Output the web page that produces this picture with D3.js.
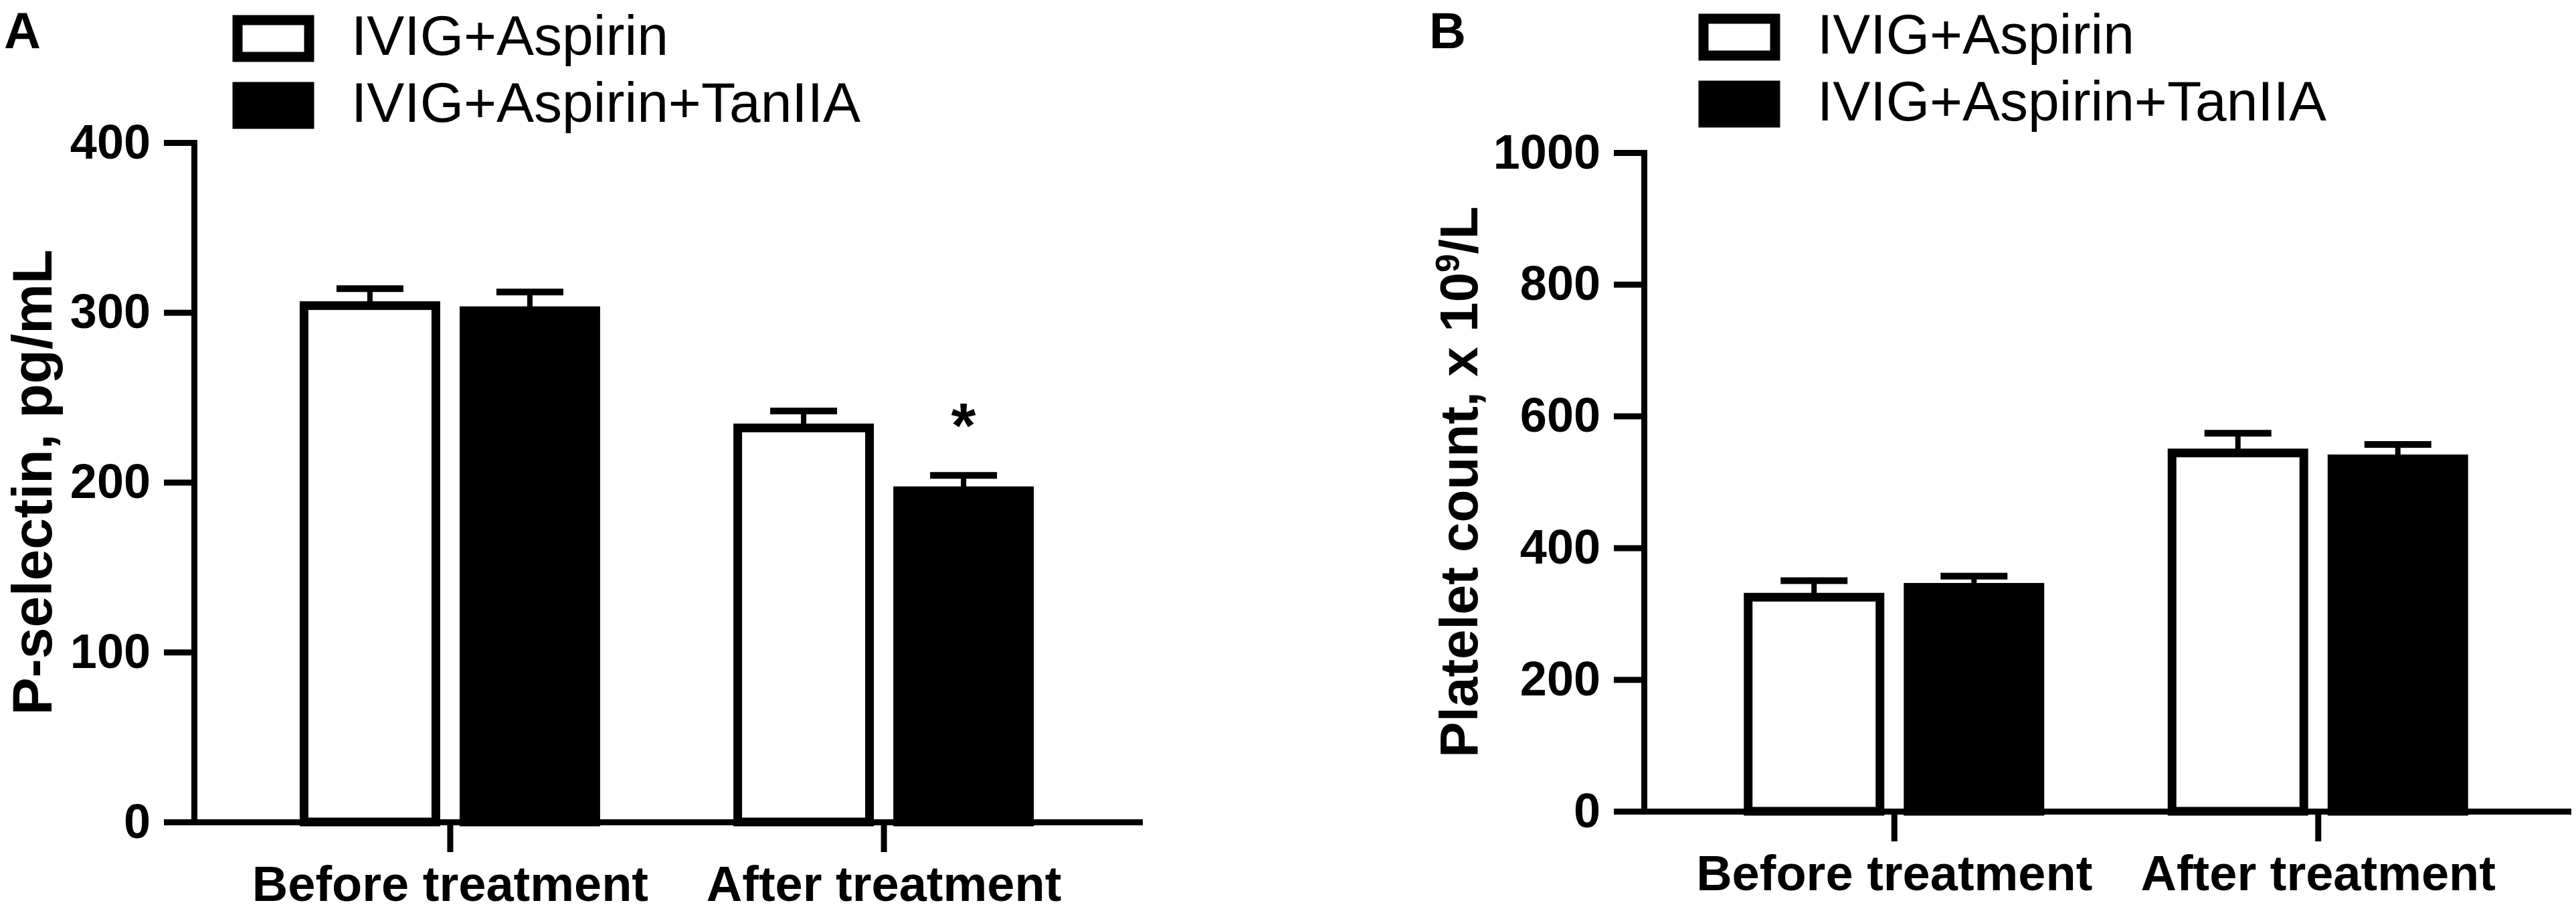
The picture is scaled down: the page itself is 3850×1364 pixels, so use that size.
<!DOCTYPE html>
<html>
<head>
<meta charset="utf-8">
<script src="https://cdn.jsdelivr.net/npm/d3@7"></script>
<style>
  body { margin: 0; background: #fff; }
  svg { display: block; font-family: "Liberation Sans", Arial, sans-serif; }
</style>
</head>
<body>
<svg id="chart" width="3850" height="1364"></svg>
<script>
// data
let groups = ["Before treatment", "After treatment"];
let series = ["IVIG+Aspirin", "IVIG+Aspirin+TanIIA"];
let seriesFill = ["#ffffff", "#000000"];

let pselMean = [[304, 301], [232, 195]];   // [group][series]
let pselErr  = [[10, 11], [10, 9]];
let pselStar = [["", ""], ["", "*"]];
let pselTicks = [0, 100, 200, 300, 400];

let pltMean = [[325, 340], [544, 535]];
let pltErr  = [[25, 17], [30, 22]];
let pltStar = [["", ""], ["", ""]];
let pltTicks = [0, 200, 400, 600, 800, 1000];

let svg = d3.select("#chart");

function drawPanel(p) {
  let g = svg.append("g").attr("class", "panel");

  let y = d3.scaleLinear().domain([0, p.yMax]).range([p.y0, p.yTop]);
  let x = d3.scalePoint().domain(groups).range([p.x0, p.x0 + p.w]).padding(0.59);
  let xs = d3.scaleBand().domain(series).range([-218, 218]).paddingInner(0.176);

  // flatten for the joins
  let rows = [];
  groups.forEach(function(gr, i) {
    series.forEach(function(s, j) {
      rows.push({group: gr, series: s, j: j, mean: p.mean[i][j], err: p.err[i][j], star: p.star[i][j]});
    });
  });

  // bars
  g.selectAll("rect.bar").data(rows).enter().append("rect")
    .attr("class", "bar")
    .attr("x", d => x(d.group) + xs(d.series))
    .attr("y", d => y(d.mean))
    .attr("width", xs.bandwidth())
    .attr("height", d => y(0) - y(d.mean))
    .attr("fill", d => seriesFill[d.j])
    .attr("stroke", "#000")
    .attr("stroke-width", 13);

  // error bars (upper only)
  let eb = g.selectAll("g.err").data(rows).enter().append("g").attr("class", "err");
  eb.append("line")
    .attr("x1", d => x(d.group) + xs(d.series) + xs.bandwidth() / 2)
    .attr("x2", d => x(d.group) + xs(d.series) + xs.bandwidth() / 2)
    .attr("y1", d => y(d.mean))
    .attr("y2", d => y(d.mean + d.err))
    .attr("stroke", "#000").attr("stroke-width", 8);
  eb.append("line")
    .attr("x1", d => x(d.group) + xs(d.series) + xs.bandwidth() / 2 - 50)
    .attr("x2", d => x(d.group) + xs(d.series) + xs.bandwidth() / 2 + 50)
    .attr("y1", d => y(d.mean + d.err))
    .attr("y2", d => y(d.mean + d.err))
    .attr("stroke", "#000").attr("stroke-width", 10);

  // significance marks
  g.selectAll("text.star").data(rows.filter(d => d.star)).enter().append("text")
    .attr("class", "star")
    .attr("x", d => x(d.group) + xs(d.series) + xs.bandwidth() / 2)
    .attr("y", d => y(d.mean + d.err) - 42)
    .attr("text-anchor", "middle")
    .attr("font-size", 95)
    .attr("font-weight", "bold")
    .text(d => d.star);

  // y axis
  let ya = g.append("g")
    .attr("transform", "translate(" + p.x0 + ",0)")
    .call(d3.axisLeft(y).tickValues(p.ticks).tickFormat(d3.format("d"))
      .tickSize(45).tickSizeOuter(0).tickPadding(20));
  // x axis
  let xa = g.append("g")
    .attr("transform", "translate(0," + p.y0 + ")")
    .call(d3.axisBottom(x).tickSize(45).tickSizeOuter(0).tickPadding(20));

  [ya, xa].forEach(function(a) {
    a.select(".domain").attr("stroke", "#000").attr("stroke-width", 9).attr("stroke-linecap", "square");
    a.selectAll(".tick line").attr("stroke", "#000").attr("stroke-width", 9);
    a.selectAll(".tick text").attr("fill", "#000").attr("font-weight", "bold")
      .attr("font-family", "'Liberation Sans', Arial, sans-serif");
  });
  ya.selectAll(".tick text").attr("font-size", 72);
  xa.selectAll(".tick text").attr("font-size", 74);

  // y title
  let yt = g.append("text")
    .attr("transform", "translate(" + p.titleX + "," + (p.y0 + p.yTop) / 2 + ") rotate(-90)")
    .attr("text-anchor", "middle")
    .attr("font-size", p.titleSize)
    .attr("font-weight", "bold");
  p.title.forEach(function(t) {
    let ts = yt.append("tspan").text(t.text);
    if (t.sup) ts.attr("font-size", p.titleSize * 0.62).attr("dy", "-0.55em");
    if (t.after) ts.attr("dy", "0.34em");
  });

  // panel letter
  g.append("text")
    .attr("x", p.letterX).attr("y", 72)
    .attr("font-size", 76).attr("font-weight", "bold")
    .text(p.letter);

  // legend
  let lg = g.selectAll("g.leg").data(series).enter().append("g").attr("class", "leg");
  lg.append("rect")
    .attr("x", p.legX)
    .attr("y", (d, i) => p.legY + i * 100)
    .attr("width", 107).attr("height", 55)
    .attr("fill", (d, i) => seriesFill[i])
    .attr("stroke", "#000").attr("stroke-width", 15);
  lg.append("text")
    .attr("x", p.legX + 170)
    .attr("y", (d, i) => p.legY + 52 + i * 100)
    .attr("font-size", 84)
    .text(d => d);
}

drawPanel({
  letter: "A", letterX: 6,
  x0: 290, w: 1413, y0: 1228, yTop: 213, yMax: 400,
  ticks: pselTicks, mean: pselMean, err: pselErr, star: pselStar,
  titleX: 77, titleSize: 84,
  title: [{text: "P-selectin, pg/mL"}],
  legX: 355, legY: 30
});

drawPanel({
  letter: "B", letterX: 2136,
  x0: 2457, w: 1381, y0: 1212, yTop: 228, yMax: 1000,
  ticks: pltTicks, mean: pltMean, err: pltErr, star: pltStar,
  titleX: 2208, titleSize: 80,
  title: [{text: "Platelet count, x 10"}, {text: "9", sup: true}, {text: "/L", after: true}],
  legX: 2546, legY: 28
});
</script>
</body>
</html>
